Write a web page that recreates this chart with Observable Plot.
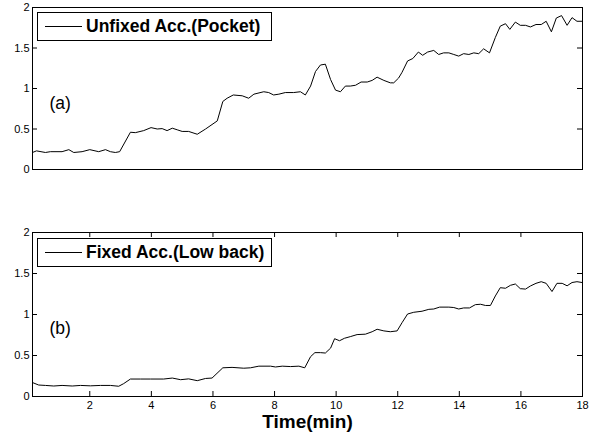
<!DOCTYPE html>
<html><head><meta charset="utf-8">
<script src="https://cdn.jsdelivr.net/npm/d3@7"></script>
<script src="https://cdn.jsdelivr.net/npm/@observablehq/plot@0.6"></script>
<style>
body{margin:0;background:#fff;font-family:"Liberation Sans",Arial,sans-serif;}
#wrap{position:relative;width:591px;height:433px;overflow:hidden;}
.panel{position:absolute;left:0;}
.panel svg{display:block;}
.legend{position:absolute;left:37px;width:235px;height:29px;border:1px solid #000;background:#fff;box-sizing:border-box;}
.legend .swatch{position:absolute;left:7px;top:13px;width:37px;height:0;border-top:1px solid #000;}
.legend .lab{position:absolute;left:48px;top:0;line-height:27px;font-size:17.5px;font-weight:bold;color:#000;white-space:nowrap;}
</style>
</head><body>
<div id="wrap"></div>
<script>
// ---- data ----
const yTicks = [0, 0.5, 1, 1.5, 2];
const xTicks = [2, 4, 6, 8, 10, 12, 14, 16, 18];
const seriesNames = ["Unfixed Acc.(Pocket)", "Fixed Acc.(Low back)"];
const panelLabels = ["(a)", "(b)"];
const xLabel = "Time(min)";

const timeA = [0.14,0.27,0.56,0.72,1.10,1.32,1.48,1.75,2.00,2.29,2.51,2.67,2.83,2.97,3.32,3.48,3.75,3.99,4.19,4.35,4.51,4.68,4.84,5.00,5.21,5.49,5.76,6.14,6.32,6.46,6.66,6.95,7.16,7.33,7.65,7.81,7.97,8.14,8.35,8.62,8.84,9.00,9.17,9.33,9.49,9.65,9.82,9.98,10.14,10.30,10.46,10.63,10.81,11.01,11.17,11.33,11.55,11.76,11.87,12.03,12.14,12.32,12.49,12.67,12.81,12.97,13.17,13.33,13.49,13.66,13.82,13.98,14.14,14.31,14.47,14.63,14.79,14.98,15.17,15.33,15.50,15.64,15.82,15.98,16.15,16.31,16.49,16.66,16.82,16.99,17.15,17.32,17.50,17.66,17.82,17.99];
const accA = [0.21,0.23,0.21,0.22,0.22,0.245,0.21,0.22,0.245,0.22,0.245,0.22,0.21,0.22,0.46,0.455,0.48,0.517,0.50,0.505,0.48,0.51,0.49,0.47,0.47,0.435,0.50,0.60,0.84,0.88,0.92,0.91,0.88,0.93,0.96,0.95,0.92,0.93,0.95,0.95,0.96,0.92,1.03,1.21,1.29,1.30,1.11,0.98,0.96,1.03,1.03,1.04,1.08,1.08,1.10,1.14,1.10,1.07,1.07,1.13,1.20,1.34,1.37,1.45,1.41,1.45,1.47,1.42,1.44,1.44,1.42,1.40,1.43,1.42,1.44,1.43,1.49,1.44,1.63,1.77,1.80,1.73,1.82,1.78,1.78,1.76,1.79,1.79,1.83,1.70,1.87,1.90,1.78,1.875,1.83,1.83];

const timeB = [0.14,0.34,0.56,0.83,1.10,1.43,1.70,2.02,2.35,2.67,2.94,3.10,3.32,3.65,3.97,4.40,4.68,4.95,5.21,5.49,5.76,5.97,6.32,6.62,7.00,7.22,7.49,7.87,8.03,8.25,8.52,8.79,8.98,9.17,9.31,9.49,9.65,9.82,9.95,10.11,10.27,10.46,10.68,10.95,11.17,11.33,11.55,11.76,11.98,12.14,12.32,12.52,12.79,13.01,13.17,13.36,13.66,13.82,13.98,14.14,14.33,14.52,14.69,14.85,15.01,15.17,15.33,15.50,15.66,15.82,15.98,16.15,16.31,16.49,16.66,16.82,17.01,17.17,17.34,17.50,17.66,17.82,17.99];
const accB = [0.17,0.14,0.135,0.128,0.135,0.128,0.135,0.13,0.135,0.135,0.125,0.157,0.213,0.213,0.213,0.213,0.225,0.205,0.215,0.193,0.22,0.225,0.35,0.355,0.345,0.35,0.37,0.37,0.36,0.37,0.365,0.37,0.35,0.486,0.535,0.535,0.53,0.59,0.705,0.68,0.71,0.73,0.755,0.76,0.79,0.82,0.80,0.79,0.80,0.90,1.006,1.027,1.04,1.063,1.067,1.09,1.09,1.085,1.067,1.08,1.08,1.12,1.125,1.11,1.11,1.226,1.327,1.32,1.356,1.372,1.315,1.31,1.348,1.38,1.40,1.38,1.28,1.38,1.38,1.35,1.39,1.40,1.39];

const xDomain = [0.14, 18];
const yDomain = [0, 2];

// ---- drawing ----
const W = 591, mL = 32, mR = 9;
const innerW = W - mL - mR;
const tick = 5;

function panel({t, v, label, top, height, marginTop, marginBottom, showX, labelDy}) {
  const innerH = height - marginTop - marginBottom;
  const data = t.map((x, i) => ({t: x, v: v[i]}));
  const marks = [
    Plot.line(data, {x: "t", y: "v", stroke: "#000", strokeWidth: 1}),
    Plot.axisY({ticks: yTicks, tickSize: 0, tickPadding: 3, tickFormat: d => String(d), fontSize: 11}),
    Plot.tickY(yTicks, {y: d => d, insetRight: innerW - tick, stroke: "#000"}),
    Plot.tickY(yTicks, {y: d => d, insetLeft: innerW - tick, stroke: "#000"}),
    Plot.text([label], {frameAnchor: "left", dx: 17, dy: labelDy, textAnchor: "start", fontSize: 17.5, fill: "#000"}),
    Plot.frame({stroke: "#000", strokeWidth: 1})
  ];
  if (showX) {
    marks.push(
      Plot.axisX({ticks: xTicks, tickSize: 0, tickPadding: 5, tickFormat: d => String(d), fontSize: 11}),
      Plot.tickX(xTicks, {x: d => d, insetTop: innerH - tick, stroke: "#000"}),
      Plot.tickX(xTicks, {x: d => d, insetBottom: innerH - tick, stroke: "#000"}),
      Plot.text([xLabel], {frameAnchor: "bottom", lineAnchor: "bottom", dy: 31, fontSize: 19, fontWeight: "bold", fill: "#000"})
    );
  } else {
    marks.push(Plot.axisX({ticks: [], label: null}));
  }
  const svg = Plot.plot({
    width: W, height, marginLeft: mL, marginRight: mR, marginTop, marginBottom,
    x: {domain: xDomain, label: null},
    y: {domain: yDomain, label: null},
    style: {fontFamily: '"Liberation Sans", Arial, sans-serif', color: "#000", background: "transparent", fontSize: "11px"},
    marks
  });
  const div = document.createElement("div");
  div.className = "panel";
  div.style.top = top + "px";
  div.appendChild(svg);
  return div;
}

function legend(name, top) {
  const box = document.createElement("div");
  box.className = "legend";
  box.style.top = top + "px";
  const sw = document.createElement("div"); sw.className = "swatch";
  const lab = document.createElement("div"); lab.className = "lab"; lab.textContent = name;
  box.appendChild(sw); box.appendChild(lab);
  return box;
}

const wrap = document.getElementById("wrap");
wrap.appendChild(panel({t: timeA, v: accA, label: panelLabels[0], top: 0, height: 178, marginTop: 7, marginBottom: 9, showX: false, labelDy: 15}));
wrap.appendChild(panel({t: timeB, v: accB, label: panelLabels[1], top: 178, height: 255, marginTop: 54, marginBottom: 37, showX: true, labelDy: 14}));
wrap.appendChild(legend(seriesNames[0], 12));
wrap.appendChild(legend(seriesNames[1], 238));
</script>
</body></html>
